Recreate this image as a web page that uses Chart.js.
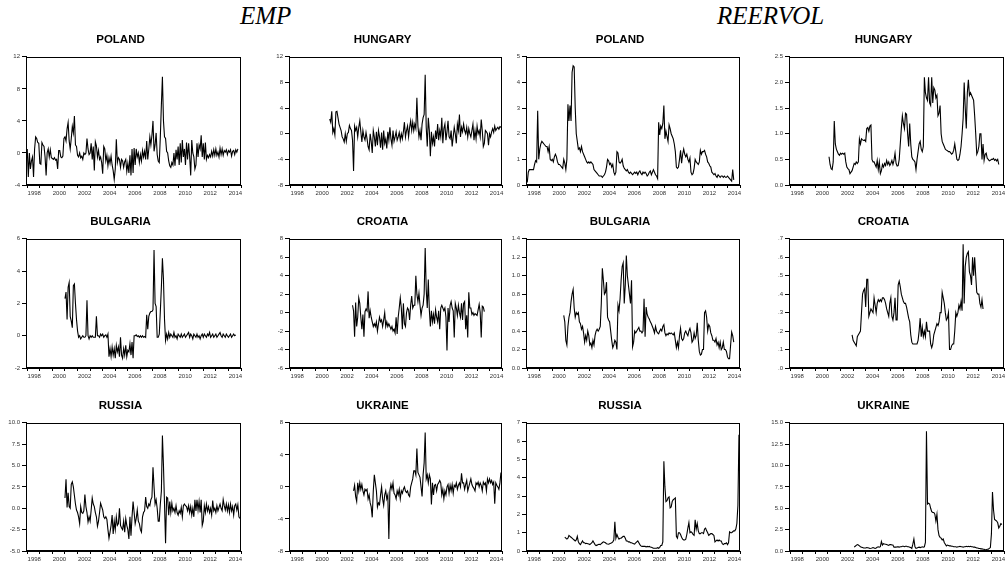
<!DOCTYPE html>
<html><head><meta charset="utf-8">
<script src="https://cdn.jsdelivr.net/npm/chart.js@4/dist/chart.umd.min.js"></script>
<style>
html,body{margin:0;padding:0;background:#fff;width:1006px;height:567px;overflow:hidden;position:relative}
canvas{position:absolute}
.hd{position:absolute;font-family:'Liberation Serif','Times New Roman',serif;font-style:italic;font-size:25px;line-height:25px;color:#000;white-space:nowrap}
</style></head><body>
<div class="hd" style="left:240px;top:3px">EMP</div>
<div class="hd" style="left:717px;top:3px">REERVOL</div>
<script>
// ---------- data ----------
const YEAR_TICKS = [1998,1999,2000,2001,2002,2003,2004,2005,2006,2007,2008,2009,2010,2011,2012,2013,2014,2015];
const YEAR_LABELS = ['1998','2000','2002','2004','2006','2008','2010','2012','2014'];

const EMP_POLAND_START = [1998, 1];
const EMP_POLAND = [
 0.5,-3,0,-2,-1,-0.5,-3,0.5,2,1.8,1.3,1.2,
 -1.3,-1.4,1.3,1.0,0.8,-0.5,-2.8,0,0.5,-0.5,0.4,-0.6,
 -0.7,-0.8,-0.6,-0.9,-0.8,-2,0.3,0.3,-0.5,-0.6,-0.4,1.8,
 2.0,1.5,3.0,3.8,1.5,0.5,1.8,3.3,2.5,4.6,1.0,0.8,
 -0.3,-0.5,0,-0.6,-0.4,-0.8,0,-0.2,0,1.8,0.5,-0.2,
 0,1.2,-0.8,0.8,-2.2,1.4,0.9,-0.5,0.3,-0.8,-0.5,-1.2,
 -2.6,0.8,0.5,-1.0,-0.3,-1.6,-0.6,-1.3,-0.4,-1.5,-2.2,-3.3,
 -2.0,1.7,-1.2,-0.6,-0.8,-1.8,-0.8,-1.0,-1.8,-1.1,-0.8,-2.3,
 -1.3,-2.5,-0.3,-2.8,0.5,-2.5,0.6,-1.5,0.5,-0.5,0,-1.2,
 -0.2,-1.0,0.3,-0.5,0.2,-0.8,1.5,-0.8,0.5,2.0,1.0,2.2,
 4.0,0.2,1.0,2.5,-0.2,-1.0,-1.2,2.0,6.0,9.5,4.0,2.0,
 1.8,0.2,0,-1.0,-1.6,-1.8,-1.2,-1.5,0,-1.6,0.4,-0.8,
 0.8,-1.5,1.2,-1.2,1.6,-0.5,0.5,-1.5,1.3,-0.8,1.2,-0.5,
 -2.8,1.6,0,-0.5,-2.0,-1.5,1.2,-0.5,1.0,0.5,2.2,-0.5,
 1.2,-0.8,1.3,-0.8,-0.3,-0.6,-0.2,-0.5,0.2,-0.4,0.4,-0.3,
 0.5,-0.3,0.1,-0.5,0.6,-0.2,0.5,-0.3,0.3,0.1,0.4,-0.2,
 0.3,0.1,0.4,-0.4,0.2,0.3,-0.2,0.4,0.1,0.5];
const EMP_POLAND_TICKS = ['-4','0','4','8','12'];

const EMP_HUNGARY_START = [2001, 3];
const EMP_HUNGARY = [
 2.3,1.8,3.5,0.2,0.8,-0.2,3.4,3.5,2.5,1.5,
 1.0,0.5,-0.5,-0.8,-1.3,0.0,-1.2,0.0,0.2,1.3,0.8,0.5,
 -1.0,-5.8,1.2,0.5,1.0,-0.5,1.0,2.0,0.3,-1.3,0.5,-0.5,
 -1.0,0.2,-0.8,-2.0,-2.5,0.0,-1.2,-3.0,0.5,-0.5,-2.0,0.3,
 -1.8,0.5,-0.5,-2.2,0.2,-2.5,0.5,-1.5,-0.8,-2.3,0.3,-1.0,
 1.0,-0.8,-1.8,0.5,-1.2,-0.5,0.3,-1.0,-0.5,0.2,-1.0,0.0,
 -0.8,0.3,1.8,-0.5,0.5,1.2,-0.5,1.0,2.0,0.5,1.8,0.5,
 1.5,0.8,5.6,1.2,-0.5,0.5,-1.0,1.5,2.5,3.0,9.2,1.0,
 -2.0,2.5,0.5,-3.5,0.3,-1.5,-0.5,-2.0,0.5,-0.8,1.5,-1.0,
 0.5,-0.5,2.5,-1.5,0.8,1.5,-1.0,0.3,2.0,-0.5,-0.8,0.5,
 -2.0,-0.5,1.0,0.0,-1.5,1.5,0.5,3.0,-0.5,1.0,0.3,1.5,
 0.5,0.0,1.0,-0.5,0.8,0.0,-0.5,0.5,1.5,-1.0,0.5,-0.8,
 1.2,0.0,0.5,-0.5,2.2,0.5,-2.0,-1.5,0.5,0.3,0.0,-1.8,
 0.0,-0.5,0.3,0.8,0.2,1.2,0.5,0.8,1.0,0.7,1.1,1.0];
const EMP_HUNGARY_TICKS = ['-8','-4','0','4','8','12'];

const EMP_BULGARIA_START = [2001, 1];
const EMP_BULGARIA = [
 2.3,2.7,1.0,3.0,3.3,1.2,0.9,0.5,3.1,3.2,2.0,1.0,
 0.3,-0.1,0.0,-0.2,-0.1,0.0,-0.1,-0.1,0.0,2.2,0.0,-0.2,
 0.0,-0.1,0.0,-0.1,-0.1,-0.1,1.2,0.0,0.0,-0.1,0.1,0.0,
 0.1,-0.1,0.0,0.05,-0.1,0.1,-1.3,-0.8,-1.3,-0.7,-1.2,-0.8,
 -1.4,-0.6,-1.0,-0.7,-1.3,-0.1,-1.2,-1.4,-0.8,-1.2,-0.6,-1.3,
 -0.9,-1.0,-0.5,-1.2,-0.4,-1.4,0.0,0.0,0.05,-0.05,0.0,-0.1,
 0.0,-0.1,0.0,-0.1,-0.05,-0.1,1.3,0.4,1.2,1.4,1.5,1.5,
 1.6,5.3,2.0,1.8,-0.1,-0.1,0.1,1.5,3.0,4.8,3.5,1.0,
 -0.3,0.1,-0.2,0.2,-0.1,0.1,0.0,-0.1,0.2,-0.1,0.0,-0.2,
 0.1,0.0,-0.1,0.1,-0.1,0.0,0.1,-0.1,0.0,0.1,0.2,-0.1,
 0.1,0.0,-0.2,0.1,0.0,-0.1,0.1,-0.1,0.0,-0.2,0.0,0.1,
 -0.1,0.1,0.0,-0.1,0.1,0.0,0.2,-0.1,0.0,0.1,-0.1,0.0,
 0.1,-0.1,0.0,0.1,0.2,0.0,-0.1,0.1,0.0,-0.1,0.1,0.0,
 -0.1,0.0,0.1,-0.1,0.0,0.1,0.0,0.05];
const EMP_BULGARIA_TICKS = ['-2','0','2','4','6'];

const EMP_CROATIA_START = [2003, 1];
const EMP_CROATIA = [
 0.8,0.2,-2.6,1.1,-1.5,-0.5,1.6,1.0,-0.5,-1.8,-0.2,-2.6,
 0.1,0.4,0.2,2.3,-0.6,0.2,-0.5,-1.0,-1.5,-1.2,-1.5,-1.0,
 -2.0,-1.2,-0.5,-1.0,-0.8,-1.5,-0.8,0.0,-1.5,-1.0,-1.5,-1.2,
 -1.5,-1.8,-1.5,-2.0,-1.8,-2.2,-0.5,-2.3,-0.5,0.5,1.6,0.5,
 -1.8,1.0,-1.2,-1.5,0.0,0.5,0.3,-0.8,0.8,1.8,0.5,0.8,
 0.8,4.0,2.0,1.2,2.1,0.8,-0.3,0.5,0.8,2.0,7.0,2.5,
 0.5,3.6,0.3,-1.5,0.2,-1.0,-0.2,-1.2,0.3,-0.5,-1.0,0.2,
 -1.8,0.5,0.8,0.5,0.2,0.5,-0.5,-4.1,0.5,-1.0,0.8,1.2,
 0.5,0.2,-2.7,1.0,0.5,-0.3,0.8,0.0,-0.5,1.0,-0.8,1.0,
 1.2,-1.8,-0.3,-2.7,2.2,0.5,0.5,-0.2,0.0,-0.3,-0.1,-0.2,
 -0.3,0.3,0.9,0.0,-2.7,0.7,0.6,0.1];
const EMP_CROATIA_TICKS = ['-6','-4','-2','0','2','4','6','8'];

const EMP_RUSSIA_START = [2001, 1];
const EMP_RUSSIA = [
 1.2,3.4,0.1,1.8,0.2,0.0,2.8,3.1,2.5,1.5,0.5,-0.2,
 -0.5,-1.0,-1.8,0.2,-0.5,-0.6,-0.3,1.6,0.2,-0.5,-1.6,-1.0,
 -1.5,-0.2,1.2,0.5,0.2,-0.5,-1.0,-2.1,-1.5,-0.5,0.6,0.2,
 -0.2,-1.0,-1.2,-1.0,-1.3,-2.5,-3.5,-2.8,-2.0,-0.8,-3.0,-1.5,
 -2.5,-1.0,-2.0,-1.8,0.0,-2.0,-2.3,-2.5,-1.5,-2.8,-1.2,-2.0,
 -2.5,-3.6,-1.0,-3.2,-1.0,0.8,-0.5,-1.8,-1.2,-0.2,-1.5,-1.8,
 -2.5,-2.8,-1.0,-0.5,-0.3,1.3,0.2,0.0,0.5,0.3,1.0,1.3,
 4.8,2.5,0.5,1.0,0.0,-1.5,-1.5,0.5,2.0,8.5,5.0,0.5,
 -4.1,1.3,1.2,-0.8,0.8,-0.5,0.6,-0.3,0.0,-0.5,0.3,-0.5,
 -0.8,-0.3,-0.6,0.1,-1.0,0.3,0.5,0.3,0.2,-0.3,0.3,-0.5,
 0.2,-0.8,0.0,-1.0,1.0,-0.3,1.0,-0.2,0.8,-0.5,1.0,-2.0,
 -1.5,0.3,-0.5,0.5,-0.3,0.2,-0.5,0.0,-0.8,0.9,-0.3,0.0,
 -0.5,0.3,-0.3,0.1,0.5,0.0,-0.3,1.0,0.3,-0.2,0.5,-0.3,
 0.4,-0.5,0.5,-0.3,0.2,-0.8,0.3,0.5,-0.2,0.4,-1.0,-1.2];
const EMP_RUSSIA_TICKS = ['-5.0','-2.5','0.0','2.5','5.0','7.5','10.0'];

const EMP_UKRAINE_START = [2003, 2];
const EMP_UKRAINE = [
 -0.5,0.2,-1.2,-1.8,0.5,-0.5,0.5,-0.3,0.3,-0.5,-1.0,
 -0.3,-0.5,-0.3,-1.5,-1.0,-2.0,-2.5,-3.8,-0.5,1.5,0.5,-0.5,
 -2.5,-2.0,-2.2,-1.0,0.0,-1.5,-2.3,-1.0,-0.5,-1.5,-1.0,-6.5,
 -0.5,0.3,-0.3,0.5,-0.8,-1.0,-1.5,-0.5,-1.0,-0.3,-1.5,-0.5,
 -0.8,-0.3,0.0,-0.5,-0.7,-0.5,-1.0,-1.2,0.0,0.5,1.0,2.0,
 2.0,1.5,4.8,1.8,1.5,1.2,0.0,-1.2,1.5,3.0,6.8,1.0,
 1.5,0.5,1.5,1.0,-2.2,0.5,-1.0,0.2,0.3,-0.5,0.3,0.5,
 0.8,0.5,-1.0,-0.3,-1.5,-0.5,-1.0,0.0,0.3,-0.8,0.2,-0.5,
 0.3,-0.8,0.2,0.0,0.5,-0.3,0.2,0.5,0.0,1.7,0.5,0.5,
 -0.3,0.3,0.8,-0.5,0.0,0.5,1.0,0.3,0.0,-0.2,-0.5,0.5,
 0.3,0.6,0.0,0.5,0.2,-0.5,0.6,0.3,0.5,-0.5,1.0,0.5,
 1.0,0.5,0.8,0.3,0.6,-2.1,0.5,0.2,0.0,-0.3,0.5,1.8];
const EMP_UKRAINE_TICKS = ['-8','-4','0','4','8'];

const REER_POLAND_START = [1998, 1];
const REER_POLAND = [
 0.1,0.5,0.6,0.6,0.6,0.6,0.6,0.8,0.95,0.9,2.9,1.0,
 1.4,1.6,1.7,1.65,1.6,1.55,1.5,1.5,1.3,1.5,1.0,0.95,
 1.0,0.9,1.1,1.2,1.1,0.9,0.8,0.8,0.75,0.7,0.65,1.0,
 0.85,0.6,1.0,3.15,2.5,3.1,2.5,4.4,4.65,4.6,3.0,2.0,
 1.7,1.4,1.45,1.3,1.5,1.3,1.2,1.1,1.0,0.9,0.85,0.9,
 0.85,0.9,0.85,0.8,0.6,0.55,0.5,0.45,0.4,0.35,0.35,0.35,
 0.3,0.35,0.4,0.5,0.7,1.0,0.95,0.8,0.85,0.7,0.8,0.5,
 0.4,0.5,1.3,1.25,0.9,0.85,0.9,1.0,0.75,0.65,0.6,0.55,
 0.6,0.5,0.45,0.5,0.45,0.4,0.45,0.5,0.45,0.5,0.4,0.5,
 0.55,0.45,0.4,0.5,0.45,0.5,0.45,0.35,0.4,0.5,0.55,0.4,
 0.5,0.6,0.5,0.4,0.35,0.25,2.45,1.95,2.3,2.2,2.4,3.1,
 1.8,2.1,1.9,1.7,2.35,2.2,2.0,1.9,1.8,1.6,1.3,0.7,
 0.65,0.7,1.0,1.35,0.85,1.2,1.4,1.2,1.1,1.2,1.0,0.9,
 1.05,0.5,0.4,0.45,0.65,1.0,0.9,0.85,0.8,0.9,1.35,1.2,
 1.3,1.3,1.35,1.2,1.1,0.9,0.85,0.75,0.7,0.5,0.45,0.4,
 0.45,0.35,0.3,0.4,0.35,0.3,0.35,0.35,0.3,0.35,0.3,0.3,
 0.35,0.3,0.25,0.2,0.15,0.6,0.2];
const REER_POLAND_TICKS = ['0','1','2','3','4','5'];

const REER_HUNGARY_START = [2001, 2];
const REER_HUNGARY = [
 0.55,0.4,0.32,0.3,0.45,1.25,0.8,0.7,0.65,0.6,0.58,
 0.62,0.6,0.62,0.6,0.62,0.45,0.35,0.32,0.3,0.22,0.25,0.28,
 0.35,0.42,0.4,0.45,0.42,0.45,0.9,0.8,0.9,0.88,0.87,0.88,
 0.85,1.1,1.12,1.05,1.15,1.17,0.5,0.45,0.45,0.4,0.35,0.48,
 0.3,0.45,0.22,0.28,0.4,0.35,0.42,0.38,0.48,0.4,0.45,0.38,
 0.42,0.48,0.4,0.48,0.62,0.42,0.37,0.38,0.5,0.8,1.1,1.35,
 1.2,1.1,1.4,1.38,1.0,0.75,1.2,0.8,0.55,0.5,0.48,0.45,
 0.3,0.5,0.65,0.8,0.85,0.7,0.65,0.75,2.1,1.8,1.7,1.65,
 2.1,1.6,1.55,2.1,1.6,1.9,1.85,1.7,1.75,1.35,1.4,1.55,
 1.0,0.85,0.8,0.75,0.7,0.68,0.67,0.65,0.65,0.63,0.6,0.62,
 0.68,0.8,0.65,0.5,0.48,0.5,0.6,0.75,1.0,1.3,2.0,1.5,
 1.1,1.8,2.05,1.75,1.8,1.75,1.7,1.65,1.35,1.0,0.6,0.65,
 0.75,1.0,1.0,0.5,0.8,0.48,0.6,0.62,0.52,0.5,0.47,0.48,
 0.5,0.5,0.52,0.48,0.5,0.47,0.5,0.4];
const REER_HUNGARY_TICKS = ['0.0','0.5','1.0','1.5','2.0','2.5'];

const REER_BULGARIA_START = [2000, 12];
const REER_BULGARIA = [
 0.57,
 0.5,0.3,0.25,0.45,0.55,0.6,0.72,0.8,0.85,0.65,0.55,0.6,
 0.58,0.6,0.5,0.48,0.42,0.45,0.38,0.28,0.35,0.3,0.4,0.35,
 0.25,0.27,0.22,0.3,0.25,0.35,0.4,0.42,0.4,0.42,0.45,0.7,
 1.08,0.95,0.8,0.82,0.93,0.55,0.52,0.5,0.4,0.3,0.22,0.25,
 0.3,0.28,0.2,0.68,0.62,0.75,0.95,1.1,1.14,0.7,0.9,1.22,
 1.0,0.9,0.8,0.7,0.95,0.23,0.28,0.4,0.38,0.4,0.42,0.44,
 0.4,0.4,0.38,0.4,0.75,0.34,0.66,0.58,0.55,0.53,0.5,0.48,
 0.45,0.42,0.38,0.45,0.4,0.38,0.37,0.4,0.42,0.4,0.45,0.47,
 0.38,0.35,0.37,0.36,0.38,0.37,0.38,0.37,0.36,0.38,0.3,0.22,
 0.28,0.22,0.35,0.43,0.32,0.3,0.32,0.38,0.4,0.37,0.35,0.4,
 0.43,0.38,0.28,0.3,0.38,0.32,0.35,0.49,0.3,0.18,0.14,0.15,
 0.2,0.2,0.6,0.62,0.55,0.4,0.47,0.45,0.38,0.35,0.3,0.3,
 0.28,0.32,0.25,0.28,0.22,0.28,0.2,0.22,0.28,0.2,0.2,0.18,
 0.12,0.1,0.1,0.25,0.39,0.35,0.28];
const REER_BULGARIA_TICKS = ['0.0','0.2','0.4','0.6','0.8','1.0','1.2','1.4'];

const REER_CROATIA_START = [2002, 12];
const REER_CROATIA = [
 0.18,
 0.15,0.14,0.13,0.12,0.17,0.18,0.19,0.2,0.3,0.4,0.42,0.43,
 0.33,0.48,0.48,0.28,0.3,0.32,0.31,0.3,0.38,0.34,0.3,0.35,
 0.37,0.36,0.37,0.36,0.38,0.38,0.37,0.35,0.32,0.3,0.28,0.35,
 0.38,0.28,0.26,0.3,0.38,0.26,0.26,0.45,0.47,0.44,0.4,0.38,
 0.36,0.35,0.35,0.33,0.3,0.27,0.25,0.18,0.14,0.13,0.13,0.13,
 0.13,0.13,0.15,0.2,0.27,0.17,0.22,0.17,0.2,0.17,0.25,0.2,
 0.2,0.2,0.13,0.11,0.13,0.18,0.2,0.22,0.24,0.23,0.25,0.3,
 0.3,0.41,0.38,0.35,0.3,0.26,0.27,0.3,0.1,0.1,0.12,0.13,
 0.13,0.2,0.3,0.28,0.3,0.34,0.32,0.36,0.31,0.67,0.35,0.55,
 0.6,0.62,0.63,0.52,0.5,0.45,0.6,0.5,0.6,0.5,0.41,0.4,
 0.4,0.35,0.33,0.37,0.32];
const REER_CROATIA_TICKS = ['.0','.1','.2','.3','.4','.5','.6','.7'];

const REER_RUSSIA_START = [2001, 1];
const REER_RUSSIA = [
 0.75,0.7,0.65,0.7,0.85,0.8,0.75,0.7,0.65,0.6,0.55,0.6,
 0.8,0.5,0.4,0.35,0.45,0.55,0.45,0.45,0.4,0.42,0.4,0.38,
 0.35,0.4,0.45,0.55,0.45,0.35,0.3,0.32,0.35,0.37,0.35,0.4,
 0.45,0.5,0.48,0.45,0.4,0.38,0.37,0.4,0.42,0.45,0.5,0.6,
 1.6,0.7,0.9,0.75,0.65,0.7,0.7,0.75,0.8,0.8,0.7,0.55,
 0.55,0.5,0.5,0.45,0.45,0.42,0.4,0.38,0.45,0.5,0.55,0.45,
 0.35,0.28,0.25,0.25,0.25,0.25,0.22,0.25,0.23,0.25,0.22,0.2,
 0.18,0.15,0.15,0.15,0.15,0.18,0.15,0.2,0.3,0.3,0.5,4.9,
 3.5,2.7,2.75,2.9,2.95,2.35,2.4,2.7,2.8,2.85,2.9,0.8,
 0.7,1.0,1.0,0.9,0.75,0.65,0.6,0.6,0.65,0.9,1.25,1.55,
 1.0,1.05,1.0,0.9,0.85,1.7,1.2,1.5,1.1,0.95,0.95,1.0,
 1.0,0.95,1.2,1.25,1.1,1.0,0.85,0.9,0.95,0.95,0.9,0.85,
 0.5,0.55,0.6,0.55,0.6,0.55,0.55,0.4,0.35,0.4,0.4,0.45,
 0.35,0.45,1.05,1.0,1.0,1.05,1.1,1.1,1.2,1.5,2.5,6.35];
const REER_RUSSIA_TICKS = ['0','1','2','3','4','5','6','7'];

const REER_UKRAINE_START = [2003, 2];
const REER_UKRAINE = [
 0.45,0.55,0.65,0.75,0.7,0.6,0.5,0.45,0.4,0.35,0.35,
 0.35,0.4,0.38,0.35,0.3,0.32,0.35,0.4,0.35,0.3,0.35,0.45,
 0.5,0.45,0.5,1.1,0.7,0.85,0.82,0.8,0.75,0.7,0.65,0.75,
 0.75,0.7,0.7,0.45,0.45,0.45,0.5,0.48,0.45,0.5,0.5,0.55,
 0.55,0.5,0.55,0.55,0.5,0.5,0.45,0.4,0.3,0.8,1.4,0.5,
 0.3,0.35,0.4,0.45,0.4,0.45,0.5,0.45,0.5,1.0,14.0,5.5,
 5.6,5.5,5.0,4.6,4.5,4.5,4.3,3.5,4.3,2.5,1.8,1.6,
 1.5,1.3,1.4,1.0,0.8,0.6,0.7,0.65,0.6,0.6,0.55,0.55,
 0.5,0.5,0.5,0.45,0.5,0.5,0.55,0.5,0.5,0.45,0.5,0.5,
 0.55,0.5,0.55,0.5,0.55,0.5,0.5,0.45,0.45,0.4,0.35,0.35,
 0.3,0.3,0.25,0.25,0.2,0.2,0.15,0.15,0.2,0.2,0.3,0.4,
 2.0,6.9,4.8,3.7,3.6,3.5,3.3,2.7,2.9,3.2,3.1];
const REER_UKRAINE_TICKS = ['0.0','2.5','5.0','7.5','10.0','12.5','15.0'];

// ---------- layout (positions only) ----------
const COL_LEFT = [0, 263, 500, 763];
const COL_PLOT_W = [215, 213, 214, 215];
const ROW_TOP = [33, 215, 399];
const ROW_PLOT_H = [128, 129, 128];
const Y_W = 26, X_H = 15, TITLE_H = 24, RIGHT_PAD = 4;
const FONT = "'Liberation Sans', Arial, sans-serif";

const PANELS = [
  {t:'POLAND',   d:EMP_POLAND,    s:EMP_POLAND_START,    k:EMP_POLAND_TICKS,    c:0, r:0},
  {t:'HUNGARY',  d:EMP_HUNGARY,   s:EMP_HUNGARY_START,   k:EMP_HUNGARY_TICKS,   c:1, r:0},
  {t:'POLAND',   d:REER_POLAND,   s:REER_POLAND_START,   k:REER_POLAND_TICKS,   c:2, r:0},
  {t:'HUNGARY',  d:REER_HUNGARY,  s:REER_HUNGARY_START,  k:REER_HUNGARY_TICKS,  c:3, r:0},
  {t:'BULGARIA', d:EMP_BULGARIA,  s:EMP_BULGARIA_START,  k:EMP_BULGARIA_TICKS,  c:0, r:1},
  {t:'CROATIA',  d:EMP_CROATIA,   s:EMP_CROATIA_START,   k:EMP_CROATIA_TICKS,   c:1, r:1},
  {t:'BULGARIA', d:REER_BULGARIA, s:REER_BULGARIA_START, k:REER_BULGARIA_TICKS, c:2, r:1},
  {t:'CROATIA',  d:REER_CROATIA,  s:REER_CROATIA_START,  k:REER_CROATIA_TICKS,  c:3, r:1},
  {t:'RUSSIA',   d:EMP_RUSSIA,    s:EMP_RUSSIA_START,    k:EMP_RUSSIA_TICKS,    c:0, r:2},
  {t:'UKRAINE',  d:EMP_UKRAINE,   s:EMP_UKRAINE_START,   k:EMP_UKRAINE_TICKS,   c:1, r:2},
  {t:'RUSSIA',   d:REER_RUSSIA,   s:REER_RUSSIA_START,   k:REER_RUSSIA_TICKS,   c:2, r:2},
  {t:'UKRAINE',  d:REER_UKRAINE,  s:REER_UKRAINE_START,  k:REER_UKRAINE_TICKS,  c:3, r:2}
];

function monthly(start, values){
  return values.map((v,i)=>({x: start[0] + (start[1]-1+i)/12, y: v}));
}

const framePlugin = {
  id:'frame',
  afterDraw(chart){
    const a = chart.chartArea, ctx = chart.ctx;
    ctx.save();
    ctx.strokeStyle = '#000'; ctx.lineWidth = 1;
    ctx.strokeRect(Math.round(a.left)+0.5, Math.round(a.top)+0.5,
                   Math.round(a.right)-Math.round(a.left)-1, Math.round(a.bottom)-Math.round(a.top)-1);
    ctx.restore();
  }
};

PANELS.forEach(p=>{
  const cv = document.createElement('canvas');
  const w = Y_W + COL_PLOT_W[p.c] + RIGHT_PAD;
  const h = TITLE_H + ROW_PLOT_H[p.r] + X_H;
  cv.width = w; cv.height = h;
  cv.style.left = COL_LEFT[p.c] + 'px';
  cv.style.top = ROW_TOP[p.r] + 'px';
  cv.style.width = w + 'px'; cv.style.height = h + 'px';
  document.body.appendChild(cv);
  const tickVals = p.k.map(Number);
  new Chart(cv, {
    type:'line',
    data:{datasets:[{data: monthly(p.s, p.d), borderColor:'#000', borderWidth:1.1,
      pointRadius:0, tension:0, fill:false}]},
    options:{
      responsive:false, animation:false, devicePixelRatio:1,
      layout:{padding:{left:0, right:RIGHT_PAD, top:0, bottom:0}},
      plugins:{
        legend:{display:false}, tooltip:{enabled:false},
        title:{display:true, text:p.t, color:'#000',
          font:{family:FONT, size:11.5, weight:'bold', lineHeight:1.2},
          padding:{top:0, bottom:10}}
      },
      scales:{
        x:{type:'linear', min:1997.9, max:2015.0,
          afterBuildTicks: s=>{ s.ticks = YEAR_TICKS.map(v=>({value:v})); },
          afterFit: s=>{ s.height = X_H; },
          ticks:{autoSkip:false, maxRotation:0, minRotation:0, labelOffset:7, padding:2,
            color:'#333', font:{family:FONT, size:6},
            callback:(v)=> YEAR_LABELS.includes(String(v)) ? String(v) : ''},
          grid:{drawOnChartArea:false, drawTicks:true, tickLength:3, color:'#000'},
          border:{display:true, color:'#000', width:1}
        },
        y:{min:tickVals[0], max:tickVals[tickVals.length-1],
          afterBuildTicks: s=>{ s.ticks = tickVals.map(v=>({value:v})); },
          afterFit: s=>{ s.width = Y_W; },
          ticks:{autoSkip:false, padding:2, color:'#333', font:{family:FONT, size:6},
            callback:(v,i)=> p.k[i]},
          grid:{drawOnChartArea:false, drawTicks:true, tickLength:4, color:'#000'},
          border:{display:true, color:'#000', width:1}
        }
      }
    },
    plugins:[framePlugin]
  });
});
</script>
</body></html>
